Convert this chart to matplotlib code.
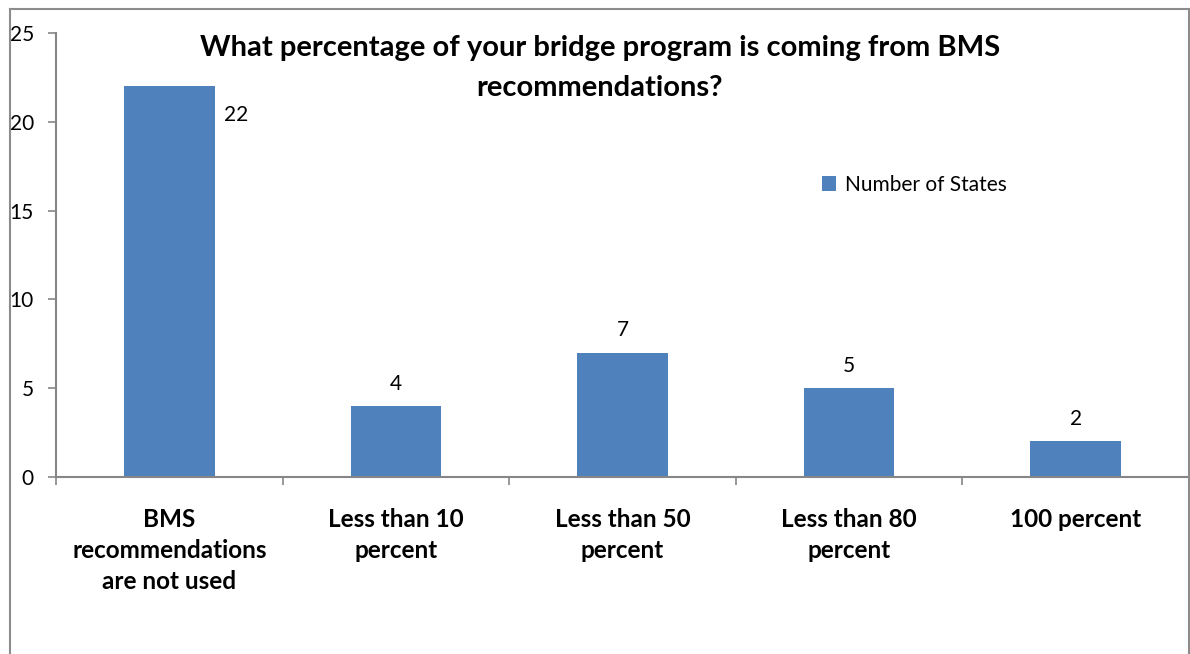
import matplotlib
matplotlib.use("Agg")
import matplotlib.pyplot as plt
from matplotlib.lines import Line2D
from matplotlib.patches import Patch

categories = ["BMS\nrecommendations\nare not used", "Less than 10\npercent",
              "Less than 50\npercent", "Less than 80\npercent", "100 percent"]
values = [22, 4, 7, 5, 2]
series_name = "Number of States"
title = "What percentage of your bridge program is coming from BMS\nrecommendations?"
yticks = [0, 5, 10, 15, 20, 25]

plt.rcParams['font.family'] = ['Lato', 'DejaVu Sans']
W, H = 1190, 654
fig = plt.figure(figsize=(W/100, H/100), dpi=100)
ax = fig.add_axes([56/W, 1-477/H, (1189-56)/W, (477-33)/H])

bar_color = "#4F81BD"
axis_color = "#868686"
x = list(range(len(categories)))
bars = ax.bar(x, values, width=0.4, color=bar_color, label=series_name, zorder=2)

ax.set_xlim(-0.5, len(categories)-0.5)
ax.set_ylim(0, 25)
ax.set_yticks(yticks)
ax.set_yticklabels([str(t) for t in yticks], fontsize=15)
ax.set_xticks(x)
ax.set_xticklabels(categories, fontsize=17.5, fontweight='bold', linespacing=1.42, va='top')
ax.tick_params(axis='x', length=0, pad=22)
ax.tick_params(axis='y', length=6, color=axis_color, width=1.2, pad=10)

# category boundary tick marks
ax.set_xticks([i - 0.5 for i in range(len(categories)+1)], minor=True)
ax.tick_params(axis='x', which='minor', length=6, color=axis_color, width=1.2)

for s in ['top', 'right']:
    ax.spines[s].set_visible(False)
for s in ['left', 'bottom']:
    ax.spines[s].set_color(axis_color)
    ax.spines[s].set_linewidth(1.5)

for i, v in enumerate(values):
    if i == 0:
        ax.annotate(str(v), xy=(i + 0.2, v), xytext=(7, -21), textcoords='offset points',
                    ha='left', va='center', fontsize=15)
    else:
        ax.annotate(str(v), xy=(i, v), xytext=(0, 16), textcoords='offset points',
                    ha='center', va='center', fontsize=15)

fig.text(600/W, 1-68/H, title, ha='center', va='center', fontsize=21,
         fontweight='bold', linespacing=1.64)

handles = [Patch(facecolor=bar_color, label=series_name)]
fig.legend(handles=handles, loc='center left', bbox_to_anchor=(803/W, 1-185/H),
           frameon=False, fontsize=15, handlelength=0.7, handleheight=0.7,
           handletextpad=0.4)

# outer chart border
fig.add_artist(Line2D([10/W, 10/W], [0, 1-9/H], transform=fig.transFigure, color="#8c8c8c", lw=1.5))
fig.add_artist(Line2D([10/W, 1189/W], [1-9/H, 1-9/H], transform=fig.transFigure, color="#8c8c8c", lw=1.5))
fig.add_artist(Line2D([1189/W, 1189/W], [0, 1-9/H], transform=fig.transFigure, color="#8c8c8c", lw=1.5))

fig.savefig("out.png", dpi=100)
